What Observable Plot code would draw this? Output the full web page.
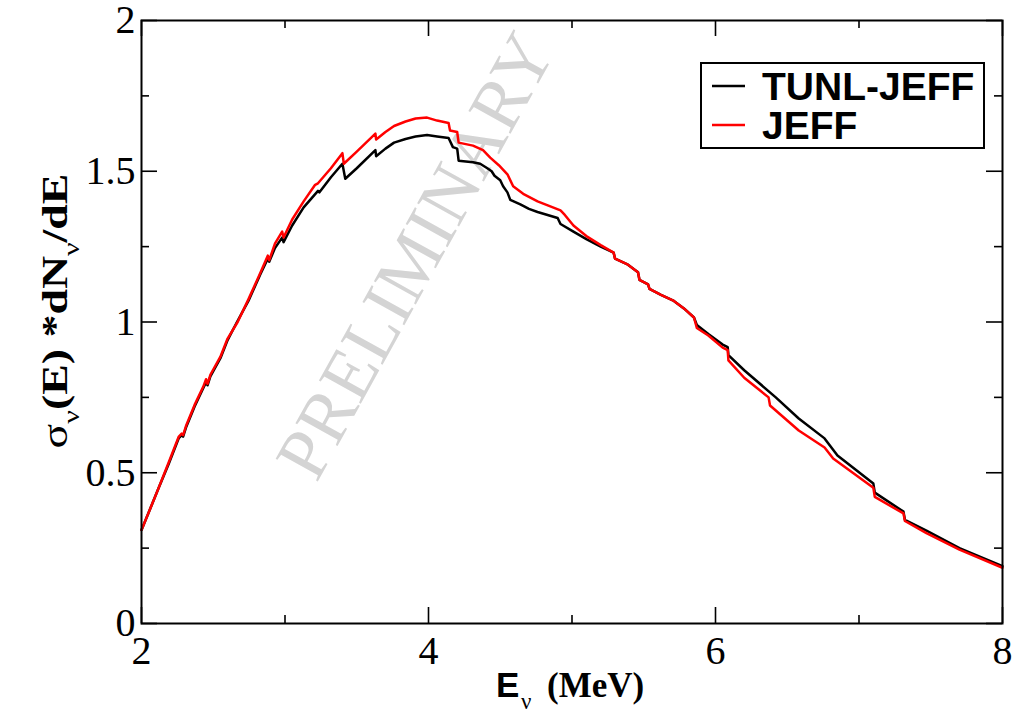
<!DOCTYPE html>
<html>
<head>
<meta charset="utf-8">
<script src="https://cdn.jsdelivr.net/npm/d3@7"></script>
<script src="https://cdn.jsdelivr.net/npm/@observablehq/plot@0.6"></script>
<style>
  html, body { margin: 0; padding: 0; background: #fff; overflow: hidden; }
  svg { display: block; }
</style>
</head>
<body>
<div id="chart"></div>
<script>
// ---- Data ----
const seriesNames = ["TUNL-JEFF", "JEFF"];
const seriesColors = ["#000000", "#ff0000"];

// TUNL-JEFF : [E (MeV), sigma*dN/dE]
const tunlJeff = [
  [2.00,0.31],[2.06,0.38],[2.12,0.45],[2.19,0.53],[2.26,0.615],[2.28,0.625],[2.29,0.62],
  [2.31,0.65],[2.37,0.72],[2.43,0.78],[2.45,0.80],[2.46,0.79],[2.48,0.82],[2.55,0.88],
  [2.60,0.94],[2.66,0.995],[2.745,1.07],[2.83,1.16],[2.88,1.21],[2.89,1.20],[2.93,1.245],
  [2.98,1.28],[2.99,1.265],[3.05,1.32],[3.13,1.38],[3.23,1.435],[3.24,1.43],[3.32,1.48],
  [3.40,1.525],[3.42,1.475],[3.50,1.51],[3.63,1.57],[3.635,1.55],[3.70,1.575],[3.76,1.595],
  [3.84,1.607],[3.91,1.615],[3.99,1.62],[4.06,1.615],[4.14,1.61],[4.17,1.58],[4.20,1.575],
  [4.21,1.535],[4.31,1.53],[4.36,1.525],[4.41,1.51],[4.44,1.50],[4.46,1.485],[4.50,1.47],
  [4.52,1.45],[4.55,1.43],[4.57,1.405],[4.64,1.39],[4.70,1.375],[4.76,1.365],[4.90,1.345],
  [4.92,1.325],[5.01,1.30],[5.10,1.275],[5.20,1.25],[5.29,1.23],[5.30,1.21],[5.39,1.19],
  [5.46,1.165],[5.47,1.14],[5.53,1.125],[5.54,1.11],[5.62,1.09],[5.71,1.07],[5.78,1.045],
  [5.85,1.015],[5.87,0.99],[5.95,0.96],[6.05,0.925],[6.085,0.917],[6.09,0.89],[6.20,0.84],
  [6.42,0.75],[6.58,0.68],[6.76,0.614],[6.85,0.557],[7.10,0.464],[7.11,0.434],[7.31,0.371],
  [7.32,0.344],[7.47,0.308],[7.70,0.25],[8.00,0.19]
];

// JEFF
const jeff = [
  [2.00,0.31],[2.06,0.38],[2.12,0.45],[2.19,0.535],[2.26,0.62],[2.28,0.63],[2.29,0.625],
  [2.31,0.655],[2.37,0.725],[2.43,0.785],[2.45,0.81],[2.46,0.795],[2.48,0.825],[2.55,0.885],
  [2.60,0.945],[2.67,1.0],[2.745,1.075],[2.83,1.165],[2.88,1.22],[2.89,1.205],[2.93,1.26],
  [2.98,1.30],[2.99,1.28],[3.05,1.34],[3.13,1.40],[3.21,1.455],[3.23,1.46],[3.32,1.51],
  [3.40,1.56],[3.41,1.525],[3.50,1.565],[3.63,1.625],[3.635,1.605],[3.70,1.63],[3.76,1.65],
  [3.84,1.665],[3.91,1.675],[3.99,1.678],[4.06,1.668],[4.14,1.66],[4.15,1.635],[4.20,1.63],
  [4.21,1.595],[4.31,1.585],[4.38,1.57],[4.43,1.545],[4.49,1.52],[4.55,1.49],[4.59,1.45],
  [4.66,1.425],[4.76,1.40],[4.84,1.385],[4.92,1.37],[4.95,1.355],[5.01,1.32],[5.10,1.285],
  [5.20,1.255],[5.29,1.23],[5.30,1.21],[5.39,1.19],[5.46,1.165],[5.47,1.14],[5.53,1.125],
  [5.54,1.11],[5.62,1.09],[5.71,1.07],[5.78,1.045],[5.85,1.015],[5.87,0.98],[5.95,0.955],
  [6.05,0.915],[6.085,0.907],[6.09,0.873],[6.20,0.815],[6.37,0.75],[6.38,0.723],[6.58,0.64],
  [6.76,0.584],[6.82,0.547],[7.10,0.45],[7.11,0.42],[7.31,0.365],[7.32,0.34],[7.47,0.30],
  [7.70,0.245],[8.00,0.185]
];

const xMajor = [2, 4, 6, 8];
const xMinor = [3, 5, 7];
const yMajor = [0, 0.5, 1, 1.5, 2];
const yMinor = [0.25, 0.75, 1.25, 1.75];
const xTickLabels = ["2", "4", "6", "8"];
const yTickLabels = ["0", "0.5", "1", "1.5", "2"];
const watermark = ["PRELIMINARY"];

// ---- Layout ----
const W = 1028, H = 713;
const mL = 141, mR = 26, mT = 20, mB = 90;
const iw = W - mL - mR, ih = H - mT - mB;
const majorLen = 16, minorLen = 8;
const tickStroke = {stroke: "black", strokeWidth: 1.6};

const plot = Plot.plot({
  width: W, height: H,
  marginLeft: mL, marginRight: mR, marginTop: mT, marginBottom: mB,
  x: {domain: [2, 8]},
  y: {domain: [0, 2]},
  style: {fontFamily: "Liberation Serif", background: "white", color: "black", overflow: "visible"},
  marks: [
    Plot.text(watermark, {text: d => d, frameAnchor: "middle", dx: -156, dy: -66, rotate: -61,
      fontSize: 73, fill: "#d4d4d4", fontFamily: "Liberation Serif"}),
    Plot.line(tunlJeff, {stroke: seriesColors[0], strokeWidth: 2.5}),
    Plot.line(jeff, {stroke: seriesColors[1], strokeWidth: 2.5}),
    // inward ticks, all four sides
    Plot.tickX(xMajor, {insetTop: ih - majorLen, ...tickStroke}),
    Plot.tickX(xMajor, {insetBottom: ih - majorLen, ...tickStroke}),
    Plot.tickX(xMinor, {insetTop: ih - minorLen, ...tickStroke}),
    Plot.tickX(xMinor, {insetBottom: ih - minorLen, ...tickStroke}),
    Plot.tickY(yMajor, {insetRight: iw - majorLen, ...tickStroke}),
    Plot.tickY(yMajor, {insetLeft: iw - majorLen, ...tickStroke}),
    Plot.tickY(yMinor, {insetRight: iw - minorLen, ...tickStroke}),
    Plot.tickY(yMinor, {insetLeft: iw - minorLen, ...tickStroke}),
    Plot.axisX(xMajor, {tickSize: 0, tickPadding: 12, fontSize: 40, label: null,
      tickFormat: d => xTickLabels[xMajor.indexOf(d)]}),
    Plot.axisY(yMajor, {tickSize: 0, tickPadding: 6, fontSize: 40, label: null,
      tickFormat: d => yTickLabels[yMajor.indexOf(d)]}),
    Plot.frame({stroke: "black", strokeWidth: 2})
  ]
});

const svg = d3.select(plot);

// Y axis title
const yt = svg.append("text")
  .attr("transform", "translate(67,311) rotate(-90) scale(1.31,1)")
  .attr("text-anchor", "middle")
  .attr("font-family", "Liberation Serif")
  .attr("font-size", 35)
  .attr("font-weight", "bold")
  .attr("fill", "black");
yt.append("tspan").attr("font-weight", "normal").text("σ");
yt.append("tspan").attr("font-weight", "normal").attr("font-size", 23).attr("dy", 12).text("ν");
yt.append("tspan").attr("dy", -12).text("(E) *dN");
yt.append("tspan").attr("font-weight", "normal").attr("font-size", 23).attr("dy", 12).text("ν");
yt.append("tspan").attr("dy", -12).text("/dE");

// X axis title
const xt = svg.append("text")
  .attr("y", 697)
  .attr("text-anchor", "start")
  .attr("font-size", 35)
  .attr("font-weight", "bold")
  .attr("fill", "black");
xt.append("tspan").attr("x", 496).attr("font-family", "Liberation Sans").text("E");
xt.append("tspan").attr("x", 521).attr("dy", 12).attr("font-family", "Liberation Serif")
  .attr("font-weight", "normal").attr("font-size", 23).text("ν");
xt.append("tspan").attr("x", 547).attr("dy", -12).attr("font-family", "Liberation Serif").text("(MeV)");

// Legend
const lg = svg.append("g").attr("text-anchor", "start");
lg.append("rect").attr("x", 701).attr("y", 63).attr("width", 283).attr("height", 85)
  .attr("fill", "white").attr("stroke", "black").attr("stroke-width", 2);
seriesNames.forEach((name, i) => {
  const yb = 100 + i * 39;
  lg.append("line").attr("x1", 712).attr("x2", 745).attr("y1", yb - 14).attr("y2", yb - 14)
    .attr("stroke", seriesColors[i]).attr("stroke-width", 2.5);
  lg.append("text").attr("x", 762).attr("y", yb).attr("text-anchor", "start")
    .attr("font-family", "Liberation Sans").attr("font-weight", "bold").attr("font-size", 39)
    .attr("fill", "black").text(name);
});

document.getElementById("chart").appendChild(plot);
</script>
</body>
</html>
